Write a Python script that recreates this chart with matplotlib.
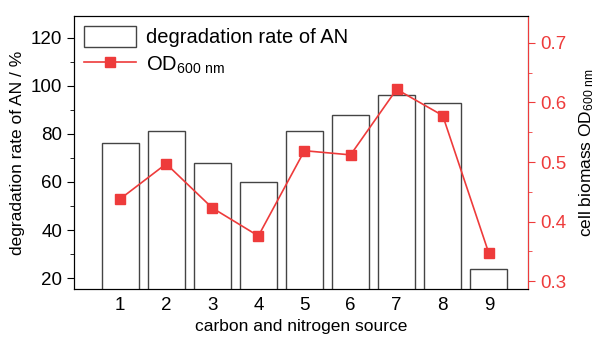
import numpy as np
import matplotlib.pyplot as plt
from matplotlib.ticker import MultipleLocator

plt.rcParams['font.family'] = ['Liberation Sans', 'DejaVu Sans']
plt.rcParams['mathtext.default'] = 'regular'

# data
sources = [1, 2, 3, 4, 5, 6, 7, 8, 9]
degradation = [76, 81, 68, 60, 81, 88, 96, 93, 24]
od600 = [0.438, 0.497, 0.423, 0.376, 0.519, 0.512, 0.622, 0.578, 0.347]

red = '#ee3b3b'

fig = plt.figure(figsize=(5.96, 3.38), dpi=100)
ax1 = fig.add_axes([74/596, 1 - 289/338, (528-74)/596, (289-16)/338])

ax1.bar(sources, degradation, width=0.8, bottom=0, facecolor='white',
        edgecolor='#444444', linewidth=1.0, label='degradation rate of AN')
ax1.set_xlim(0, 9.85)
ax1.set_ylim(15.5, 129)
ax1.yaxis.set_minor_locator(MultipleLocator(10))
ax1.set_yticks([20, 40, 60, 80, 100, 120])
ax1.set_xticks(sources)
ax1.tick_params(axis='x', length=0, labelsize=13.5, pad=6)
ax1.tick_params(axis='y', which='major', length=5, labelsize=13.5, direction='out')
ax1.tick_params(axis='y', which='minor', length=3, direction='out')
ax1.set_xlabel('carbon and nitrogen source', fontsize=12.5, labelpad=3)
ax1.set_ylabel('degradation rate of AN / %', fontsize=12.5, labelpad=4)

ax2 = ax1.twinx()
ax2.plot(sources, od600, '-s', color=red, markersize=7, linewidth=1.2,
         label='OD$_{600\\ nm}$')
ax2.set_ylim(0.287, 0.745)
ax2.yaxis.set_minor_locator(MultipleLocator(0.05))
ax2.set_yticks([0.3, 0.4, 0.5, 0.6, 0.7])
ax2.tick_params(axis='y', which='major', length=5, labelsize=13.5, colors=red)
ax2.tick_params(axis='y', which='minor', length=3, colors=red)
ax2.spines['right'].set_color(red)
ax2.set_ylabel('cell biomass OD$_{600\\ nm}$', fontsize=12.5, labelpad=8)

h1, l1 = ax1.get_legend_handles_labels()
h2, l2 = ax2.get_legend_handles_labels()
ax1.legend(h1 + h2, l1 + l2, loc='upper left', frameon=False, fontsize=14.5,
           handlelength=2.6, handleheight=1.25, handletextpad=0.5,
           borderaxespad=0.2, borderpad=0.3, labelspacing=0.3,
           bbox_to_anchor=(0.0, 1.0))

plt.savefig('out.png', dpi=100)
